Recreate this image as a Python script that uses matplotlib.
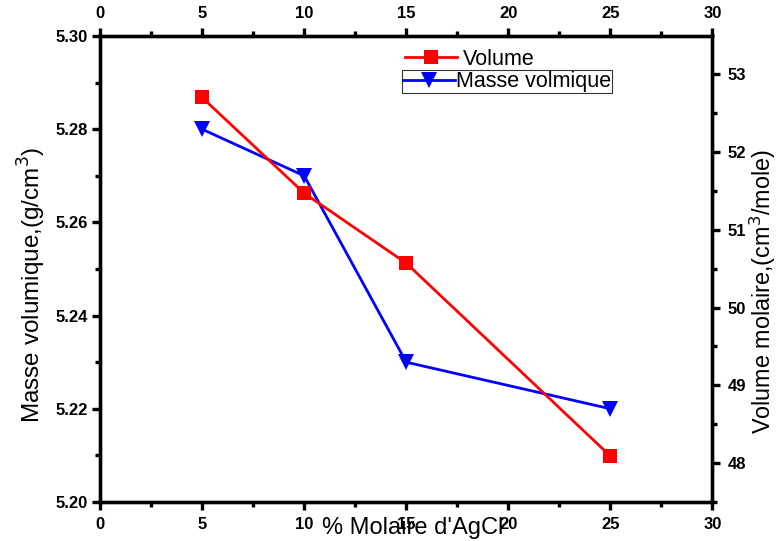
import matplotlib
matplotlib.use("Agg")
import matplotlib.pyplot as plt
from matplotlib.ticker import MultipleLocator, FormatStrFormatter
from matplotlib.lines import Line2D

plt.rcParams['font.family'] = ['Liberation Sans', 'DejaVu Sans']

# Composition (% molaire AgCl)
agcl_pct = [5, 10, 15, 25]
# Molar volume (cm3/mole), right axis
volume_molaire = [52.70, 51.47, 50.57, 48.09]
# Density (g/cm3), left axis
masse_volumique = [5.280, 5.270, 5.230, 5.220]

x_ticks = [0, 5, 10, 15, 20, 25, 30]

W, H = 779, 541
fig = plt.figure(figsize=(W / 100, H / 100), dpi=100)
ax = fig.add_axes([100/W, 1 - 502/H, (712.5 - 100)/W, (502 - 36)/H])
ax2 = ax.twinx()

spine_w = 2.4
for a in (ax, ax2):
    for s in a.spines.values():
        s.set_linewidth(spine_w)

# Density series on the left axis
ax.plot(agcl_pct, masse_volumique, color='#0000ff', lw=2.0, marker='v',
        markersize=11, markeredgewidth=0, zorder=3)
# Molar volume series on the right axis
ax2.plot(agcl_pct, volume_molaire, color='#ff0000', lw=2.0, marker='s',
         markersize=9.5, markeredgewidth=0, zorder=3)

ax.set_xlim(0, 30)
ax.set_ylim(5.20, 5.30)
ax2.set_ylim(47.5, 53.49)

ax.set_xticks(x_ticks)
ax.xaxis.set_minor_locator(MultipleLocator(2.5))
ax.yaxis.set_major_locator(MultipleLocator(0.02))
ax.yaxis.set_minor_locator(MultipleLocator(0.01))
ax.yaxis.set_major_formatter(FormatStrFormatter('%.2f'))
ax2.yaxis.set_major_locator(MultipleLocator(1))
ax2.yaxis.set_minor_locator(MultipleLocator(0.5))

tick_font = dict(labelsize=12)
ax.tick_params(axis='x', which='major', direction='out', length=6, width=spine_w,
               top=True, labeltop=True, bottom=True, labelbottom=True, pad=5, **tick_font)
ax.tick_params(axis='x', which='minor', direction='out', length=3.5, width=spine_w,
               top=True, bottom=True)
ax.tick_params(axis='y', which='major', direction='out', length=6, width=spine_w,
               left=True, right=False, pad=3, **tick_font)
ax.tick_params(axis='y', which='minor', direction='out', length=3.5, width=spine_w,
               left=True, right=False)
ax2.tick_params(axis='y', which='major', direction='out', length=6, width=spine_w,
                pad=5, **tick_font)
ax2.tick_params(axis='y', which='minor', direction='out', length=3.5, width=spine_w)

for lbl in ax.get_yticklabels() + ax2.get_yticklabels():
    lbl.set_fontweight('bold')
for t in ax.xaxis.get_major_ticks():
    t.label1.set_fontweight('bold')
    t.label2.set_fontweight('bold')

# Axis titles
fig.text(32/W, 1 - 285/H, 'Masse volumique,(g/cm$^3$)', fontsize=17.5,
         rotation=90, ha='center', va='center')
fig.text(763/W, 1 - 292/H, 'Volume molaire,(cm$^3$/mole)', fontsize=16.8,
         rotation=90, ha='center', va='center')
fig.text(413/W, 1 - 528/H, "% Molaire d'AgCl", fontsize=17,
         ha='center', va='center')

# Two separate legend entries, the second one framed
h_vol = Line2D([], [], color='#ff0000', lw=2.0, marker='s', markersize=9.5,
               markeredgewidth=0)
h_mv = Line2D([], [], color='#0000ff', lw=2.0, marker='v', markersize=11,
              markeredgewidth=0)
leg1 = ax2.legend([h_vol], ['Volume'], loc='upper left',
                  bbox_to_anchor=(405/W, 1 - 49/H), bbox_transform=fig.transFigure,
                  frameon=False, fontsize=15.5, handlelength=2.4, handletextpad=0.3,
                  borderpad=0.0, borderaxespad=0)
ax2.add_artist(leg1)
leg2 = ax2.legend([h_mv], ['Masse volmique'], loc='upper left',
                  bbox_to_anchor=(402/W, 1 - 70/H), bbox_transform=fig.transFigure,
                  frameon=True, fancybox=False, fontsize=15.5, handlelength=2.4,
                  handletextpad=0.05, borderpad=0.05, borderaxespad=0)
leg2.get_frame().set_edgecolor('black')
leg2.get_frame().set_linewidth(0.8)

fig.savefig('out.png', dpi=100)
